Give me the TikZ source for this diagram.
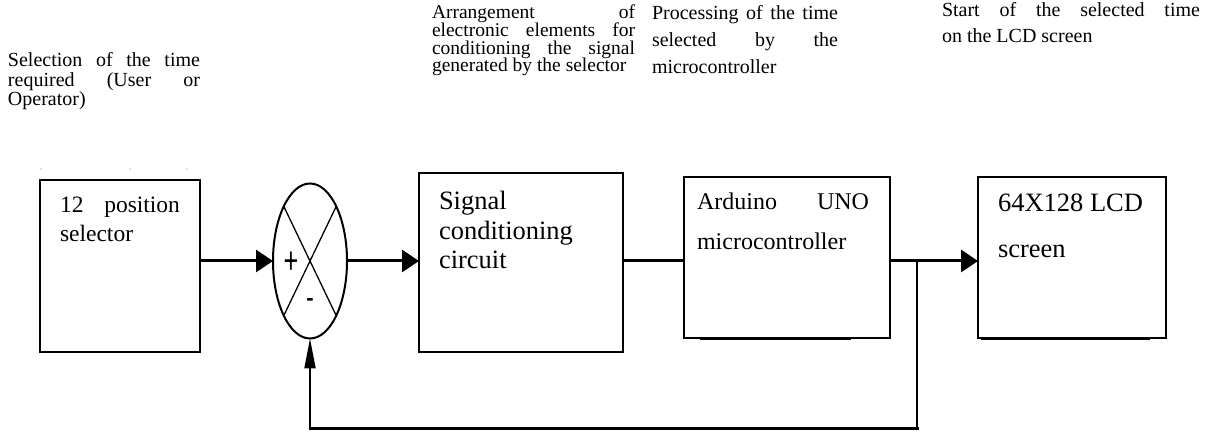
\documentclass[tikz,border=0pt]{standalone}
\usepackage{fontspec}
\setmainfont{Liberation Serif}
\newfontfamily\sumfont{Liberation Sans}
\usetikzlibrary{arrows.meta,shapes.geometric,calc}
\begin{document}
\begin{tikzpicture}[x=1pt,y=-1pt,
  blk/.style={draw,line width=1.2pt,rectangle,inner sep=0pt,outer sep=0pt,anchor=north west},
  lbl/.style={inner sep=0pt,outer sep=0pt,anchor=base west,align=left},
  mainarrow/.style={line width=3pt,-{Triangle[length=17pt,width=22pt]}},
  thickline/.style={line width=3pt},
  fbarrow/.style={line width=2pt,-{Triangle[length=30pt,width=11pt]}},
  crossline/.style={line width=1.3pt},
  shadowline/.style={line width=2pt}]
\useasboundingbox (0,0) rectangle (1215,435);
\fill[white] (0,0) rectangle (1215,435);

% top labels
\node[lbl] (l1) at (8,67) {\parbox[t]{192pt}{\lineskiplimit=-100pt\fontsize{20}{19.5}\selectfont Selection of the time\linebreak required (User or\linebreak Operator)}};
\node[lbl] (l2) at (432,19) {\parbox[t]{203pt}{\lineskiplimit=-100pt\fontsize{19.5}{17.6}\selectfont Arrangement of\linebreak electronic elements for\linebreak conditioning the signal\linebreak generated by the selector}};
\node[lbl] (l3) at (652,20) {\parbox[t]{186pt}{\lineskiplimit=-100pt\fontsize{20}{27}\selectfont Processing of the time\linebreak selected by the\linebreak microcontroller}};
\node[lbl] (l4) at (942,17) {\parbox[t]{258pt}{\lineskiplimit=-100pt\fontsize{20}{26}\selectfont Start of the selected time\linebreak on the LCD screen}};

% tiny marks above first block
\fill[gray] (41,169) circle (0.7);
\fill[gray] (130,169) circle (0.7);
\fill[gray] (187,169) circle (0.7);

% blocks
\node[blk,minimum width=160pt,minimum height=172pt] (b1) at (40,180) {};
\node[blk,minimum width=204pt,minimum height=179pt] (b2) at (419,173) {};
\node[blk,minimum width=206pt,minimum height=161pt] (b3) at (684,177) {};
\node[blk,minimum width=188pt,minimum height=161pt] (b4) at (978,177) {};
\node[draw,ellipse,line width=2pt,minimum width=74pt,minimum height=155pt,inner sep=0pt,outer sep=0pt] (sum) at (310,261) {};

% block texts
\node[lbl] (t1) at (60,213) {\parbox[t]{120pt}{\fontsize{23.5}{29}\selectfont 12 position\linebreak selector}};
\node[lbl] (t2) at (439,210) {\parbox[t]{180pt}{\raggedright\fontsize{26.5}{29.5}\selectfont Signal\\conditioning\\circuit}};
\node[lbl] (t3) at (697,210) {\parbox[t]{172pt}{\fontsize{24}{40}\selectfont Arduino UNO\linebreak microcontroller}};
\node[lbl] (t4) at (998,212) {\parbox[t]{170pt}{\raggedright\fontsize{26.5}{46}\selectfont 64X128 LCD\\screen}};

% shadow lines under blocks 3 and 4
\draw[shadowline] ($(b3.south west)+(16,1.5)$) -- ($(b3.south east)+(-39,1.5)$);
\draw[shadowline] ($(b4.south west)+(3,1.5)$) -- ($(b4.south east)+(-16,1.5)$);

% summing junction
\draw[crossline] ($(sum.center)+(-26.2,-54.6)$) -- ($(sum.center)+(26.2,54.6)$);
\draw[crossline] ($(sum.center)+(26.2,-54.6)$) -- ($(sum.center)+(-26.2,54.6)$);
\node[inner sep=0pt] (plus) at (291,263) {\scalebox{1.05}[1.55]{\sumfont\fontsize{24}{24}\selectfont +}};
\node[inner sep=0pt] (minus) at (310,302) {\sumfont\fontsize{22}{22}\selectfont\textbf{-}};

% forward path
\draw[mainarrow] (b1.east |- sum.center) -- (sum.west);
\draw[mainarrow] (sum.east) -- (sum.east -| b2.west);
\draw[thickline] (sum.east -| b2.east) -- (sum.east -| b3.west);
\draw[mainarrow] (sum.east -| b3.east) -- (sum.east -| b4.west);

% feedback path
\coordinate (j) at (917,261);
\coordinate (c1) at (917,428);
\coordinate (c2) at (sum.south |- c1);
\draw[line width=1.6pt] (j) -- (c1);
\draw[thickline,line cap=rect] (c1) -- (c2);
\draw[fbarrow] (c2) -- (sum.south);
\end{tikzpicture}
\end{document}
